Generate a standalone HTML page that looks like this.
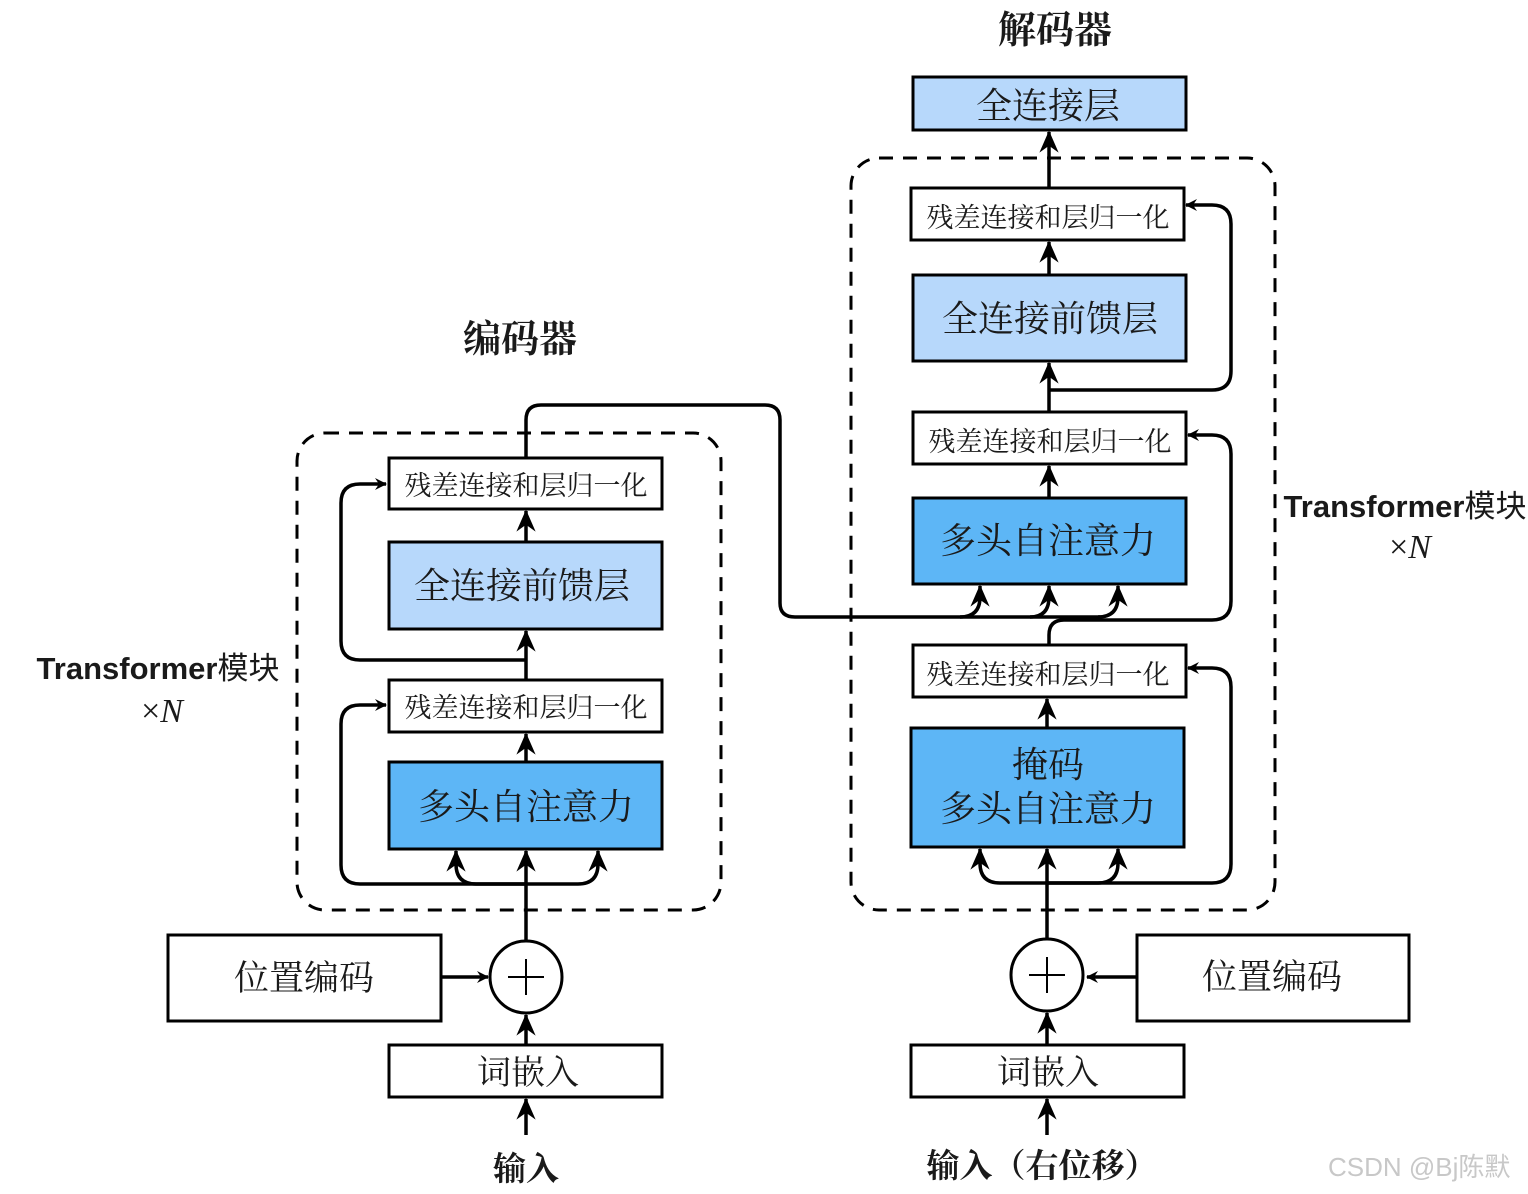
<!DOCTYPE html>
<html><head><meta charset="utf-8"><style>
html,body{margin:0;padding:0;background:#fff}
svg{display:block}
text{font-family:"Liberation Serif","Noto Serif CJK SC",serif;fill:#1a1a1a}
.s{font-family:"Liberation Sans","Noto Sans CJK SC",sans-serif;font-weight:bold}
</style></head><body>
<svg width="1528" height="1194" viewBox="0 0 1528 1194" xmlns="http://www.w3.org/2000/svg">
<defs>
<marker id="a" viewBox="0 0 12 12" refX="11" refY="6" markerWidth="12" markerHeight="12" markerUnits="userSpaceOnUse" orient="auto">
<path d="M0,0 L12,6 L0,12 L4,6 Z" fill="#000"/>
</marker>
<marker id="b" viewBox="0 0 16 16" refX="15" refY="8" markerWidth="22" markerHeight="22" markerUnits="userSpaceOnUse" orient="auto">
<path d="M0,1 L16,8 L0,15 L5,8 Z" fill="#000"/>
</marker>
</defs>
<g fill="none" stroke="#000" stroke-width="3">
<rect x="297" y="433" width="424" height="477" rx="28" stroke-dasharray="14,10"/>
<rect x="851" y="158" width="424" height="752" rx="28" stroke-dasharray="14,10"/>
</g>
<g stroke="#000" stroke-width="3">
<rect x="389" y="458" width="273" height="51" fill="#fff"/>
<rect x="389" y="542" width="273" height="87" fill="#b7d8fb"/>
<rect x="389" y="680" width="273" height="52" fill="#fff"/>
<rect x="389" y="762" width="273" height="87" fill="#5db6f6"/>
<rect x="168" y="935" width="273" height="86" fill="#fff"/>
<rect x="389" y="1045" width="273" height="52" fill="#fff"/>
<circle cx="526" cy="977" r="36" fill="#fff"/>
<rect x="913" y="77" width="273" height="53" fill="#b7d8fb"/>
<rect x="911" y="188" width="273" height="52" fill="#fff"/>
<rect x="913" y="275" width="273" height="86" fill="#b7d8fb"/>
<rect x="913" y="412" width="273" height="52" fill="#fff"/>
<rect x="913" y="498" width="273" height="86" fill="#5db6f6"/>
<rect x="913" y="645" width="273" height="52" fill="#fff"/>
<rect x="911" y="728" width="273" height="119" fill="#5db6f6"/>
<rect x="1137" y="935" width="272" height="86" fill="#fff"/>
<rect x="911" y="1045" width="273" height="52" fill="#fff"/>
<circle cx="1047" cy="975" r="36" fill="#fff"/>
</g>
<g stroke="#000" stroke-width="2">
<line x1="508" y1="977" x2="544" y2="977"/><line x1="526" y1="959" x2="526" y2="995"/>
<line x1="1029" y1="975" x2="1065" y2="975"/><line x1="1047" y1="957" x2="1047" y2="993"/>
</g>
<g fill="none" stroke="#000" stroke-width="3.5" stroke-linejoin="round">
<path d="M526,1135 V1099" marker-end="url(#b)"/>
<path d="M526,1045 V1015" marker-end="url(#b)"/>
<path d="M441,977 H488" marker-end="url(#a)"/>
<path d="M526,941 V851" marker-end="url(#b)"/>
<path d="M526,884 H360 Q341,884 341,865 V724 Q341,705 360,705 H386" marker-end="url(#a)"/>
<path d="M526,884 H476 Q456,884 456,864 V851" marker-end="url(#b)"/>
<path d="M526,884 H578 Q598,884 598,864 V851" marker-end="url(#b)"/>
<path d="M526,762 V734" marker-end="url(#b)"/>
<path d="M526,680 V631" marker-end="url(#b)"/>
<path d="M526,660 H360 Q341,660 341,641 V503 Q341,484 360,484 H386" marker-end="url(#a)"/>
<path d="M526,542 V511" marker-end="url(#b)"/>
<path d="M526,458 V420 Q526,405 541,405 H765 Q780,405 780,420 V603 Q780,617 795,617 H1100"/>
<path d="M960,617 Q980,617 980,597 V586" marker-end="url(#b)"/>
<path d="M1030,617 Q1049,617 1049,597 V586" marker-end="url(#b)"/>
<path d="M1098,617 Q1118,617 1118,597 V586" marker-end="url(#b)"/>
<path d="M1047,1135 V1099" marker-end="url(#b)"/>
<path d="M1047,1045 V1013" marker-end="url(#b)"/>
<path d="M1137,977 H1087" marker-end="url(#a)"/>
<path d="M1047,939 V849" marker-end="url(#b)"/>
<path d="M1047,883 H1212 Q1231,883 1231,864 V687 Q1231,668 1212,668 H1188" marker-end="url(#a)"/>
<path d="M1047,883 H1000 Q980,883 980,863 V849" marker-end="url(#b)"/>
<path d="M1047,883 H1098 Q1118,883 1118,863 V849" marker-end="url(#b)"/>
<path d="M1047,728 V699" marker-end="url(#b)"/>
<path d="M1049,645 V635 Q1049,620 1064,620 H1212 Q1231,620 1231,601 V454 Q1231,435 1212,435 H1188" marker-end="url(#a)"/>
<path d="M1049,498 V466" marker-end="url(#b)"/>
<path d="M1049,412 V363" marker-end="url(#b)"/>
<path d="M1049,390 H1212 Q1231,390 1231,371 V224 Q1231,205 1212,205 H1186" marker-end="url(#a)"/>
<path d="M1049,275 V242" marker-end="url(#b)"/>
<path d="M1049,188 V132" marker-end="url(#b)"/>
</g>
<g text-anchor="middle">
<text x="520" y="352" font-size="38" font-weight="bold">编码器</text>
<text x="1055" y="43" font-size="38" font-weight="bold">解码器</text>
<text x="526" y="495" font-size="27">残差连接和层归一化</text>
<text x="522" y="598" font-size="36">全连接前馈层</text>
<text x="526" y="717" font-size="27">残差连接和层归一化</text>
<text x="526" y="819" font-size="36">多头自注意力</text>
<text x="304" y="990" font-size="35">位置编码</text>
<text x="528" y="1084" font-size="34">词嵌入</text>
<text x="526" y="1180" font-size="33" font-weight="bold">输入</text>
<text x="1048" y="118" font-size="36">全连接层</text>
<text x="1048" y="227" font-size="27">残差连接和层归一化</text>
<text x="1050" y="331" font-size="36">全连接前馈层</text>
<text x="1050" y="451" font-size="27">残差连接和层归一化</text>
<text x="1048" y="553" font-size="36">多头自注意力</text>
<text x="1048" y="684" font-size="27">残差连接和层归一化</text>
<text x="1048" y="777" font-size="36">掩码</text>
<text x="1048" y="821" font-size="36">多头自注意力</text>
<text x="1272" y="989" font-size="35">位置编码</text>
<text x="1048" y="1084" font-size="34">词嵌入</text>
<text x="1042" y="1177" font-size="33" font-weight="bold">输入（右位移）</text>
<text x="158" y="679" font-size="31" class="s">Transformer<tspan font-weight="normal">模块</tspan></text>
<text x="162" y="722" font-size="34" font-family="Liberation Sans,sans-serif" fill="#111">×<tspan font-style="italic">N</tspan></text>
<text x="1405" y="517" font-size="31" class="s">Transformer<tspan font-weight="normal">模块</tspan></text>
<text x="1410" y="558" font-size="34" font-family="Liberation Sans,sans-serif" fill="#111">×<tspan font-style="italic">N</tspan></text>
</g>
<text x="1328" y="1176" font-size="26" style="font-family:'Liberation Sans','Noto Sans CJK SC',sans-serif;fill:#c8c8c8">CSDN @Bj陈默</text>
</svg>
</body></html>
